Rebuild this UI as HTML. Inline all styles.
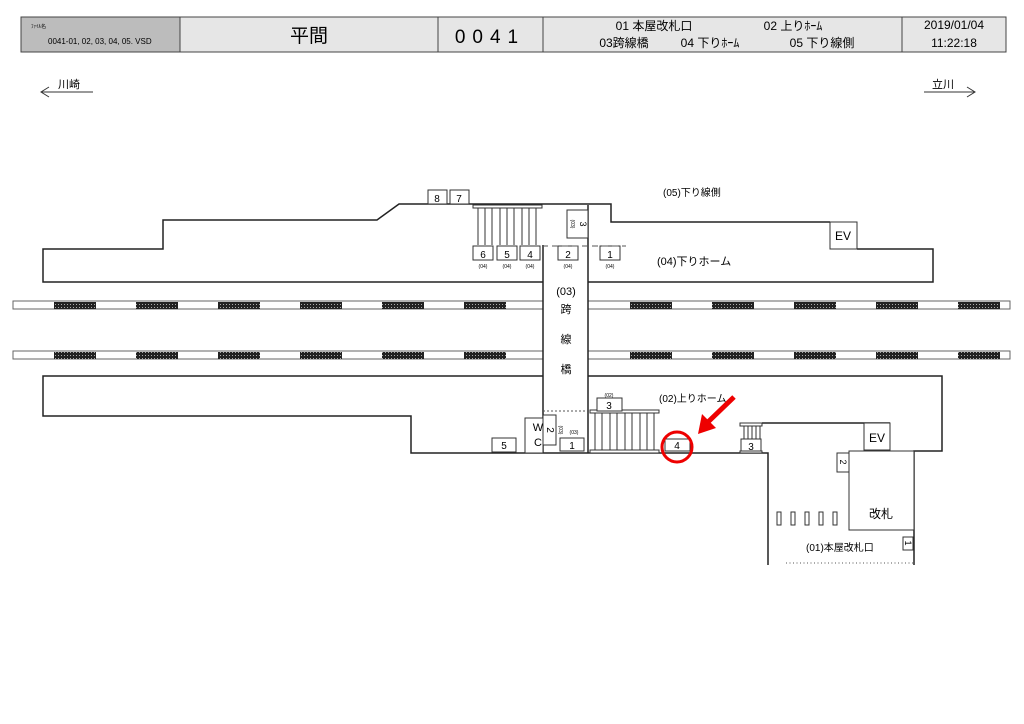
<!DOCTYPE html>
<html><head><meta charset="utf-8"><style>
body{margin:0;background:#fff;}
svg{display:block;font-family:"Liberation Sans","Noto Sans CJK JP",sans-serif;}
</style></head><body>
<svg width="1024" height="724" viewBox="0 0 1024 724" xmlns="http://www.w3.org/2000/svg">
<defs>
<pattern id="dots" width="3" height="3" patternUnits="userSpaceOnUse">
<rect width="3" height="3" fill="#222"/><rect x="1" y="1" width="1" height="1" fill="#aaa"/>
</pattern>
</defs>
<!-- header -->
<g stroke="#444" stroke-width="1">
<rect x="21" y="17" width="159" height="35" fill="#bcbcbc"/>
<rect x="180" y="17" width="258" height="35" fill="#e6e6e6"/>
<rect x="438" y="17" width="105" height="35" fill="#e6e6e6"/>
<rect x="543" y="17" width="359" height="35" fill="#e6e6e6"/>
<rect x="902" y="17" width="104" height="35" fill="#e6e6e6"/>
</g>
<text x="31" y="28" font-size="5">ﾌｧｲﾙ名</text>
<text x="48" y="44" font-size="8">0041-01, 02, 03, 04, 05. VSD</text>
<text x="309" y="42" font-size="19" text-anchor="middle">平間</text>
<text x="490" y="43" font-size="19" text-anchor="middle" letter-spacing="7">0041</text>
<text x="654" y="30" font-size="12" text-anchor="middle">01 本屋改札口</text>
<text x="793" y="30" font-size="12" text-anchor="middle">02 上りﾎｰﾑ</text>
<text x="624" y="47" font-size="12" text-anchor="middle">03跨線橋</text>
<text x="710" y="47" font-size="12" text-anchor="middle">04 下りﾎｰﾑ</text>
<text x="822" y="47" font-size="12" text-anchor="middle">05 下り線側</text>
<text x="954" y="29" font-size="12" text-anchor="middle">2019/01/04</text>
<text x="954" y="47" font-size="12" text-anchor="middle">11:22:18</text>
<!-- direction -->
<g stroke="#333" stroke-width="1" fill="none">
<path d="M41 92 H93 M49 87 L41 92 L49 97"/>
<path d="M924 92 H975 M967 87 L975 92 L967 97"/>
</g>
<text x="58" y="88" font-size="11">川崎</text>
<text x="932" y="88" font-size="11">立川</text>
<!-- rails -->
<g stroke="#666" fill="#fff">
<rect x="13" y="301" width="530" height="8"/><rect x="588" y="301" width="422" height="8"/>
<rect x="13" y="351" width="530" height="8"/><rect x="588" y="351" width="422" height="8"/>
</g>
<g fill="url(#dots)">
<rect x="54" y="302" width="42" height="7"/><rect x="136" y="302" width="42" height="7"/><rect x="218" y="302" width="42" height="7"/><rect x="300" y="302" width="42" height="7"/><rect x="382" y="302" width="42" height="7"/><rect x="464" y="302" width="42" height="7"/>
<rect x="630" y="302" width="42" height="7"/><rect x="712" y="302" width="42" height="7"/><rect x="794" y="302" width="42" height="7"/><rect x="876" y="302" width="42" height="7"/><rect x="958" y="302" width="42" height="7"/>
<rect x="54" y="352" width="42" height="7"/><rect x="136" y="352" width="42" height="7"/><rect x="218" y="352" width="42" height="7"/><rect x="300" y="352" width="42" height="7"/><rect x="382" y="352" width="42" height="7"/><rect x="464" y="352" width="42" height="7"/>
<rect x="630" y="352" width="42" height="7"/><rect x="712" y="352" width="42" height="7"/><rect x="794" y="352" width="42" height="7"/><rect x="876" y="352" width="42" height="7"/><rect x="958" y="352" width="42" height="7"/>
</g>
<!-- upper platform -->
<g stroke="#222" stroke-width="1.5" fill="none">
<path d="M543 282 H43 V249 H163 V220 H377 L399 204 H611 V222 H830"/>
<path d="M857 249 H933 V282 H588"/>
<path d="M543 245 V453 M588 205 V453"/>
<!-- lower platform -->
<path d="M543 376 H43 V416 H411 V453 H768 V565"/>
<path d="M588 376 H942 V451 H914 V565"/>
<path d="M762 423 H890"/>
</g>
<!-- upper stairs -->
<g stroke="#333" fill="#fff">
<rect x="473" y="205" width="69" height="3"/>
<path d="M478 208 V245 M485 208 V245 M492 208 V245 M500 208 V245 M507 208 V245 M514 208 V245 M522 208 V245 M529 208 V245 M536 208 V245" fill="none"/>
<rect x="830" y="222" width="27" height="27"/>
<rect x="428" y="190" width="19" height="14"/><rect x="450" y="190" width="19" height="14"/>
<rect x="567" y="210" width="21" height="28"/>
<rect x="473" y="246" width="20" height="14"/><rect x="497" y="246" width="20" height="14"/><rect x="520" y="246" width="20" height="14"/>
<rect x="558" y="246" width="20" height="14"/><rect x="600" y="246" width="20" height="14"/>
</g>
<path d="M542 246 H626" stroke="#555" stroke-dasharray="6,4"/>
<g font-size="10" text-anchor="middle">
<text x="437" y="202">8</text><text x="459" y="202">7</text>
<text x="483" y="258">6</text><text x="507" y="258">5</text><text x="530" y="258">4</text><text x="568" y="258">2</text><text x="610" y="258">1</text>
<text x="843" y="240" font-size="12">EV</text>
<text transform="translate(580,224) rotate(90)" font-size="9">3</text>
<text transform="translate(571,224) rotate(90)" font-size="5">(03)</text>
</g>
<g font-size="5" text-anchor="middle">
<text x="483" y="268">(04)</text><text x="507" y="268">(04)</text><text x="530" y="268">(04)</text><text x="568" y="268">(04)</text><text x="610" y="268">(04)</text>
</g>
<text x="663" y="196" font-size="10">(05)下り線側</text>
<text x="657" y="265" font-size="11">(04)下りホーム</text>
<!-- bridge text -->
<g font-size="11" text-anchor="middle">
<text x="566" y="295">(03)</text><text x="566" y="313">跨</text><text x="566" y="343">線</text><text x="566" y="373">橋</text>
</g>
<!-- lower structures -->
<path d="M543 411 H592" stroke="#555" stroke-dasharray="2,2"/>
<g stroke="#333" fill="#fff">
<rect x="590" y="410" width="69" height="3"/>
<path d="M595 413 V450 M602 413 V450 M610 413 V450 M617 413 V450 M625 413 V450 M632 413 V450 M640 413 V450 M647 413 V450 M654 413 V450" fill="none"/>
<rect x="590" y="450" width="69" height="3"/>
<rect x="597" y="398" width="25" height="13"/>
<rect x="525" y="418" width="18" height="35"/>
<rect x="543" y="415" width="13" height="30"/>
<rect x="560" y="438" width="24" height="13"/>
<rect x="492" y="438" width="24" height="14"/>
<rect x="665" y="439" width="25" height="12"/>
<rect x="740" y="423" width="22" height="3"/>
<path d="M744 426 V439 M748 426 V439 M752 426 V439 M756 426 V439 M760 426 V439" fill="none"/>
<rect x="741" y="439" width="20" height="12"/>
<rect x="740" y="451" width="22" height="2"/>
<rect x="864" y="423" width="26" height="27"/>
<rect x="849" y="451" width="65" height="79"/>
<rect x="837" y="453" width="12" height="19"/>
<rect x="903" y="537" width="10" height="13"/>
<rect x="777" y="512" width="4" height="13"/><rect x="791" y="512" width="4" height="13"/><rect x="805" y="512" width="4" height="13"/><rect x="819" y="512" width="4" height="13"/><rect x="833" y="512" width="4" height="13"/>
</g>
<path d="M786 563 H913" stroke="#555" stroke-dasharray="1,2.5"/>
<g font-size="10" text-anchor="middle">
<text x="609" y="409">3</text><text x="609" y="397" font-size="5">(02)</text>
<text x="572" y="449">1</text><text x="574" y="434" font-size="5">(03)</text>
<text x="504" y="449">5</text><text x="677" y="449">4</text><text x="751" y="450">3</text>
<text x="538" y="431" font-size="11">W</text><text x="538" y="446" font-size="11">C</text>
<text transform="translate(547,430) rotate(90)">2</text>
<text transform="translate(559,430) rotate(90)" font-size="5">(03)</text>
<text transform="translate(840,462) rotate(90)" font-size="9">2</text>
<text transform="translate(905,543) rotate(90)" font-size="9">1</text>
<text x="877" y="442" font-size="12">EV</text>
<text x="881" y="518" font-size="12">改札</text>
</g>
<text x="659" y="402" font-size="10">(02)上りホーム</text>
<text x="806" y="551" font-size="10">(01)本屋改札口</text>
<!-- highlight -->
<circle cx="677" cy="447" r="15" fill="none" stroke="#e00" stroke-width="3"/>
<path d="M734 397 L708 422" stroke="#e00" stroke-width="5"/>
<polygon points="698,434 702,414 716,428" fill="#e00"/>
</svg>
</body></html>
